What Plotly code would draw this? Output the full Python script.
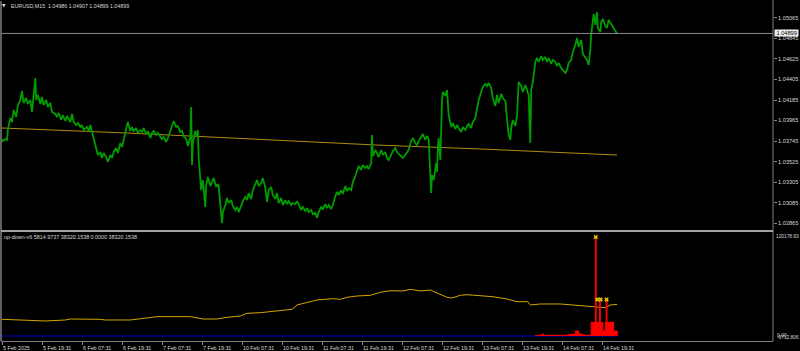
import plotly.graph_objects as go

# ---------------- data ----------------
price_bars = [
    0, 1, 4, 6, 7, 10, 12, 14, 17, 19,
    22, 24, 26, 29, 31, 34, 36, 37, 40, 41,
    43, 46, 48, 50, 53, 55, 58, 60, 64, 66,
    68, 71, 73, 76, 78, 82, 84, 86, 89, 91,
    94, 96, 98, 102, 104, 106, 108, 110, 113, 115,
    118, 120, 122, 125, 127, 130, 132, 134, 137, 139,
    142, 144, 146, 149, 151, 154, 156, 158, 161, 163,
    166, 168, 170, 173, 175, 178, 180, 182, 185, 187,
    190, 192, 194, 197, 199, 202, 204, 206, 209, 211,
    214, 216, 218, 221, 223, 226, 227, 228, 229, 232,
    234, 235, 236, 238, 239, 241, 244, 245, 247, 250,
    252, 254, 257, 259, 260, 263, 264, 265, 268, 270,
    272, 275, 277, 280, 282, 284, 287, 289, 292, 294,
    296, 299, 301, 304, 306, 308, 311, 313, 316, 318,
    320, 323, 325, 328, 330, 332, 335, 337, 340, 342,
    344, 347, 349, 352, 354, 356, 359, 361, 364, 366,
    368, 371, 373, 376, 378, 380, 383, 385, 388, 390,
    392, 395, 397, 400, 402, 404, 407, 409, 412, 414,
    416, 419, 421, 424, 426, 428, 431, 433, 436, 438,
    440, 443, 444, 445, 448, 450, 452, 455, 457, 460,
    462, 464, 467, 469, 472, 474, 476, 479, 481, 484,
    486, 488, 491, 493, 496, 498, 500, 503, 505, 508,
    510, 512, 514, 515, 516, 518, 521, 522, 523, 524,
    526, 527, 528, 529, 532, 534, 536, 539, 541, 544,
    546, 548, 551, 553, 556, 558, 560, 563, 565, 568,
    570, 572, 575, 577, 580, 582, 584, 587, 589, 592,
    594, 596, 599, 601, 604, 606, 608, 610, 611, 613,
    616, 618, 620, 623, 625, 628, 630, 632, 634, 635,
    637, 640, 642, 644, 647, 649, 652, 654, 656, 659,
    661, 664, 666, 668, 671, 673, 676, 678, 680, 683,
    685, 688, 690, 692, 695, 697, 700, 702, 704, 706,
    707, 708, 709, 710, 712, 713, 714, 715, 718, 719,
    721, 724, 726, 728, 731, 733, 736, 738,
]
price_close = [
    1.03767, 1.03745, 1.03767, 1.03756, 1.03863, 1.03992, 1.03949, 1.04078, 1.04003, 1.04121,
    1.04185, 1.04282, 1.04153, 1.04207, 1.04142, 1.04185, 1.04056, 1.04153, 1.04421, 1.04185,
    1.04239, 1.04142, 1.04217, 1.04132, 1.04185, 1.04110, 1.04153, 1.04056, 1.04035, 1.04003,
    1.04046, 1.03971, 1.04024, 1.03960, 1.04014, 1.03949, 1.04035, 1.03949, 1.03917, 1.03938,
    1.03895, 1.03917, 1.03863, 1.03895, 1.03853, 1.03917, 1.03842, 1.03756, 1.03638, 1.03595,
    1.03627, 1.03563, 1.03616, 1.03573, 1.03520, 1.03595, 1.03563, 1.03627, 1.03670, 1.03616,
    1.03724, 1.03681, 1.03756, 1.03863, 1.03949, 1.03853, 1.03895, 1.03853, 1.03885, 1.03831,
    1.03863, 1.03842, 1.03885, 1.03820, 1.03853, 1.03777, 1.03831, 1.03853, 1.03810, 1.03831,
    1.03788, 1.03767, 1.03788, 1.03735, 1.03777, 1.03853, 1.03928, 1.03960, 1.03895, 1.03906,
    1.03842, 1.03853, 1.03799, 1.03767, 1.03692, 1.03788, 1.04110, 1.03488, 1.03724, 1.03853,
    1.03788, 1.03863, 1.03563, 1.03348, 1.03219, 1.03327, 1.03037, 1.03273, 1.03359, 1.03262,
    1.03316, 1.03348, 1.03252, 1.03284, 1.03262, 1.02973, 1.02865, 1.02983, 1.03059, 1.03134,
    1.03080, 1.03112, 1.03048, 1.03005, 1.03037, 1.02983, 1.03069, 1.03101, 1.03144, 1.03112,
    1.03187, 1.03123, 1.03219, 1.03273, 1.03327, 1.03262, 1.03294, 1.03348, 1.03241, 1.03091,
    1.03219, 1.03252, 1.03166, 1.03123, 1.03187, 1.03080, 1.03134, 1.03059, 1.03112, 1.03069,
    1.03101, 1.03059, 1.03080, 1.03069, 1.03101, 1.03069, 1.03005, 1.03037, 1.02994, 1.03026,
    1.02983, 1.03005, 1.02962, 1.02973, 1.02919, 1.02983, 1.03037, 1.03016, 1.03069, 1.03026,
    1.03059, 1.03016, 1.03059, 1.03155, 1.03198, 1.03166, 1.03219, 1.03177, 1.03262, 1.03209,
    1.03241, 1.03219, 1.03305, 1.03370, 1.03413, 1.03477, 1.03434, 1.03488, 1.03455, 1.03477,
    1.03445, 1.03509, 1.03810, 1.03584, 1.03649, 1.03616, 1.03573, 1.03649, 1.03595, 1.03627,
    1.03563, 1.03541, 1.03595, 1.03638, 1.03670, 1.03627, 1.03606, 1.03584, 1.03563, 1.03595,
    1.03616, 1.03649, 1.03745, 1.03777, 1.03724, 1.03702, 1.03745, 1.03788, 1.03820, 1.03756,
    1.03799, 1.03767, 1.03380, 1.03187, 1.03380, 1.03327, 1.03509, 1.03413, 1.03649, 1.03777,
    1.03541, 1.03971, 1.04185, 1.04271, 1.04228, 1.04292, 1.04024, 1.03895, 1.03938, 1.03874,
    1.03917, 1.03885, 1.03842, 1.03895, 1.03863, 1.03906, 1.03928, 1.03885, 1.03949, 1.03992,
    1.04099, 1.04185, 1.04271, 1.04325, 1.04357, 1.04335, 1.04368, 1.04314, 1.04207, 1.04121,
    1.04239, 1.04153, 1.04250, 1.04207, 1.04174, 1.03949, 1.03810, 1.03756, 1.03885, 1.03971,
    1.03906, 1.04014, 1.04378, 1.04335, 1.04271, 1.04346, 1.04292, 1.04239, 1.03724, 1.04292,
    1.04378, 1.04593, 1.04636, 1.04593, 1.04657, 1.04614, 1.04647, 1.04593, 1.04636, 1.04571,
    1.04614, 1.04593, 1.04550, 1.04582, 1.04528, 1.04507, 1.04475, 1.04507, 1.04582, 1.04614,
    1.04700, 1.04775, 1.04850, 1.04754, 1.04829, 1.04679, 1.04647, 1.04614, 1.04561, 1.04722,
    1.04883, 1.04958, 1.05022, 1.05108, 1.04990, 1.05065, 1.05129, 1.04958, 1.04915, 1.05022,
    1.05054, 1.04979, 1.04958, 1.05044, 1.05001, 1.04968, 1.04926, 1.04899,
]

ma_bars = [0, 150, 300, 450, 576, 738]
ma_vals = [1.03885, 1.03831, 1.03767, 1.03702, 1.03659, 1.03595]

current_price = 1.04899

price_tick_vals = [1.02865, 1.03085, 1.03305, 1.03525, 1.03745, 1.03965,
                   1.04185, 1.04405, 1.04625, 1.04845, 1.05065]
price_tick_text = ["1.02865", "1.03085", "1.03305", "1.03525", "1.03745", "1.03965",
                   "1.04185", "1.04405", "1.04625", "1.04845", "1.05065"]

# indicator (up-down-v6)
ind_bars = [0, 22, 52, 76, 82, 118, 124, 154, 166, 180,
            186, 226, 234, 241, 258, 270, 286, 294, 310, 322,
            334, 348, 354, 364, 378, 397, 406, 414, 426, 442,
            454, 466, 481, 490, 502, 514, 522, 534, 540, 550,
            558, 574, 589, 606, 618, 631, 634, 646, 670, 685,
            706, 724, 730, 738]
ind_line = [20270, 19420, 18210, 19420, 20640, 20270, 19420, 19420, 21040, 22260,
            23470, 23470, 22260, 20640, 20640, 22660, 24280, 27520, 28330, 29540,
            30760, 32380, 37630, 40460, 43700, 45290, 44560, 46980, 48560, 49410,
            53050, 54990, 54630, 56690, 54630, 55840, 52570, 46980, 46130, 49410,
            50140, 49170, 47710, 44920, 41640, 41640, 37630, 38850, 38850, 37630,
            35580, 34360, 37630, 38320]

red_bars = [640, 648, 650, 680, 688, 692, 697, 707, 712, 713,
            717, 718, 721, 724, 725, 726, 734, 738, 739]
red_vals = [850, 2400, 850, 2000, 6070, 2400, 850, 16630, 120179, 16630,
            43700, 16630, 6070, 16630, 43700, 16630, 6070, 5815, 5815]

blue_bars = [0, 738]
blue_vals = [0, 0]

mark_bars = [712.5, 714.4, 718.4, 725.5]
mark_vals = [120179, 44310, 44310, 44310]

time_tick_bars = [0, 48, 96, 144, 192, 240, 288, 336, 384, 432, 480, 528, 576, 624, 672, 720]
time_tick_text = ["5 Feb 2025", "5 Feb 19:31", "6 Feb 07:31", "6 Feb 19:31", "7 Feb 07:31",
                  "7 Feb 19:31", "10 Feb 07:31", "10 Feb 19:31", "11 Feb 07:31", "11 Feb 19:31",
                  "12 Feb 07:31", "12 Feb 19:31", "13 Feb 07:31", "13 Feb 19:31", "14 Feb 07:31",
                  "14 Feb 19:31"]

main_title = "EURUSD,M15  1.04986 1.04907 1.04899 1.04899"
ind_title = "up-down-v6 5814.9737 38320.1538 0.0000 38320.1538"
ind_max_label = "120178.93"
ind_max_val = 120178.93
ind_zero_label = "0.00"
ind_min_label = "-9712.806"

# ---------------- figure ----------------
FONT = "Liberation Sans"
TXT = "#d8d8d8"
GREY = "#808080"
X_RANGE = [-1.2, 925.2]
SPLIT = 0.3235

fig = go.Figure()

fig.add_trace(go.Scatter(x=ma_bars, y=ma_vals, mode="lines", xaxis="x", yaxis="y",
                         line=dict(color="#b08c10", width=1), hoverinfo="skip"))
fig.add_trace(go.Scatter(x=price_bars, y=price_close, mode="lines", xaxis="x", yaxis="y",
                         line=dict(color="#009c00", width=1.8), hoverinfo="skip"))

fig.add_trace(go.Scatter(x=blue_bars, y=blue_vals, mode="lines", xaxis="x2", yaxis="y2",
                         line=dict(color="#000090", width=1.5), hoverinfo="skip"))
fig.add_trace(go.Scatter(x=ind_bars, y=ind_line, mode="lines", xaxis="x2", yaxis="y2",
                         line=dict(color="#d4a800", width=1), hoverinfo="skip"))
fig.add_trace(go.Scatter(x=red_bars, y=red_vals, mode="lines", xaxis="x2", yaxis="y2",
                         line=dict(color="#ff0000", width=1, shape="hv"),
                         fill="tozeroy", fillcolor="#ff0000", hoverinfo="skip"))
fig.add_trace(go.Scatter(x=mark_bars, y=mark_vals, mode="markers", xaxis="x2", yaxis="y2",
                         marker=dict(symbol="x", size=4, color="#e6c200",
                                     line=dict(width=0)), hoverinfo="skip"))

annotations = [
    dict(text="▼", xref="paper", yref="paper", x=(4 - 1) / 772, y=(341 - 6) / 340,
         xanchor="center", yanchor="middle", showarrow=False,
         font=dict(family="DejaVu Sans", size=4.5, color=TXT)),
    dict(text=main_title, xref="paper", yref="paper", x=(9 - 1) / 772, y=(341 - 6) / 340,
         xanchor="left", yanchor="middle", showarrow=False,
         font=dict(family=FONT, size=5.3, color=TXT)),
    dict(text=ind_title, xref="paper", yref="paper", x=(2 - 1) / 772, y=(341 - 237) / 340,
         xanchor="left", yanchor="middle", showarrow=False,
         font=dict(family=FONT, size=5.4, color=TXT)),
    dict(text=" " + f"{current_price:.5f}" + " ", xref="paper", yref="y", x=1, y=current_price,
         xanchor="left", yanchor="middle", xshift=1, showarrow=False, bgcolor="#f0f0f0",
         borderpad=0, font=dict(family=FONT, size=5.6, color="#000000")),
    dict(text=ind_max_label, xref="paper", yref="y2", x=1, y=ind_max_val, xanchor="left",
         yanchor="middle", xshift=1, yshift=1, showarrow=False,
         font=dict(family=FONT, size=4.8, color=TXT)),
    dict(text=ind_zero_label, xref="paper", yref="y2", x=1, y=0, xanchor="left",
         yanchor="middle", xshift=2, yshift=1.5, showarrow=False,
         font=dict(family=FONT, size=5.0, color=TXT)),
    dict(text=ind_min_label, xref="paper", yref="y2", x=1, y=0, xanchor="left",
         yanchor="middle", xshift=2, yshift=-1.5, showarrow=False,
         font=dict(family=FONT, size=4.8, color=TXT)),
]
for b, t in zip(time_tick_bars, time_tick_text):
    annotations.append(dict(text=t, xref="x2", yref="paper", x=b, y=0, xanchor="left",
                            yanchor="top", xshift=-1.5, yshift=-1.5, showarrow=False,
                            font=dict(family=FONT, size=5.3, color=TXT)))

shapes = [
    dict(type="line", xref="paper", yref="y", x0=0, x1=1, y0=current_price, y1=current_price,
         line=dict(color="#8a8a8a", width=1)),
    dict(type="line", xref="paper", yref="paper", x0=0, x1=0, y0=0, y1=1,
         line=dict(color=GREY, width=1.5)),
    dict(type="line", xref="paper", yref="paper", x0=1, x1=1, y0=0, y1=1.003,
         line=dict(color=GREY, width=1)),
    dict(type="line", xref="paper", yref="paper", x0=0, x1=1, y0=SPLIT, y1=SPLIT,
         line=dict(color="#a0a0a0", width=2)),
]

fig.update_layout(
    width=800, height=351,
    margin=dict(l=1, r=27, t=1, b=10),
    paper_bgcolor="#000000", plot_bgcolor="#000000",
    showlegend=False, hovermode=False,
    font=dict(family=FONT, size=5.4, color=TXT),
    xaxis=dict(domain=[0, 1], range=X_RANGE, anchor="y", showticklabels=False,
               showgrid=False, zeroline=False, showline=False, ticks=""),
    xaxis2=dict(domain=[0, 1], range=X_RANGE, anchor="y2", matches="x",
                tickvals=time_tick_bars, showticklabels=False, ticks="outside",
                ticklen=3, tickwidth=1, tickcolor=GREY, showgrid=False, zeroline=False,
                showline=True, linecolor=GREY, linewidth=1),
    yaxis=dict(domain=[SPLIT, 1], range=[1.02780, 1.05247], anchor="x", side="right",
               tickvals=price_tick_vals, ticktext=price_tick_text, ticks="outside",
               ticklen=3, tickwidth=1, tickcolor=GREY, showgrid=False, zeroline=False,
               showline=False, tickfont=dict(family=FONT, size=5.6, color=TXT)),
    yaxis2=dict(domain=[0, SPLIT], range=[-6070, 127463], anchor="x2", side="right",
                showticklabels=False, ticks="", showgrid=False, zeroline=False,
                showline=False),
    annotations=annotations,
    shapes=shapes,
)

fig.write_html("out.html")
